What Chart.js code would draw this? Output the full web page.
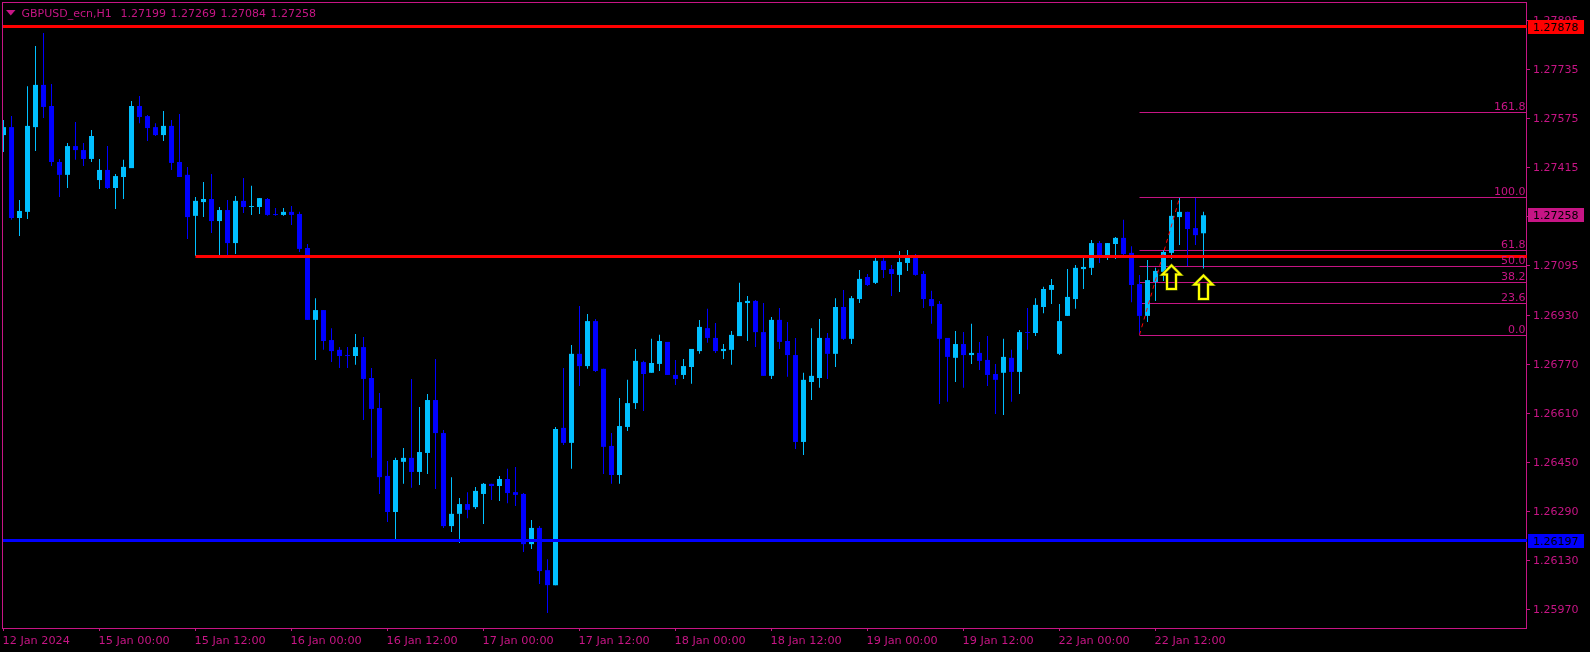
<!DOCTYPE html>
<html>
<head>
<meta charset="utf-8">
<title>GBPUSD_ecn,H1</title>
<script src="https://cdn.jsdelivr.net/npm/chart.js@4"></script>
<style>
  html, body { margin: 0; padding: 0; background: #000; }
  canvas { display: block; }
</style>
</head>
<body>
<canvas id="chart" width="1590" height="652"></canvas>
<script>
const opens = [
  1.27520,1.27546,1.27249,1.27269,1.27546,1.27684,1.27615,1.27432,1.27390,1.27484,
  1.27471,1.27442,1.27373,1.27406,1.27347,1.27383,1.27412,1.27615,1.27582,1.27546,
  1.27520,1.27550,1.27432,1.27390,1.27256,1.27301,1.27311,1.27239,1.27275,1.27167,
  1.27305,1.27285,1.27285,1.27311,1.27262,1.27259,1.27269,1.27262,1.27151,1.26916,
  1.26948,1.26850,1.26818,1.26801,1.26798,1.26827,1.26726,1.26628,1.26406,1.26288,
  1.26452,1.26465,1.26419,1.26481,1.26654,1.26546,1.26242,1.26282,1.26314,1.26304,
  1.26347,1.26380,1.26373,1.26396,1.26353,1.26347,1.26183,1.26236,1.26098,1.26049,
  1.26563,1.26514,1.26805,1.26765,1.26912,1.26756,1.26504,1.26409,1.26566,1.26644,
  1.26778,1.26743,1.26772,1.26844,1.26736,1.26736,1.26762,1.26814,1.26889,1.26857,
  1.26814,1.26818,1.26863,1.26971,1.26978,1.26876,1.26733,1.26916,1.26847,1.26801,
  1.26517,1.26713,1.26726,1.26857,1.26805,1.26958,1.26854,1.26984,1.27056,1.27037,
  1.27109,1.27082,1.27063,1.27102,1.27125,1.27066,1.26984,1.26968,1.26857,1.26792,
  1.26837,1.26801,1.26808,1.26785,1.26739,1.26743,1.26792,1.26746,1.26876,1.26873,
  1.26958,1.27014,1.26805,1.26929,1.26984,1.27082,1.27086,1.27167,1.27128,1.27164,
  1.27184,1.27135,1.27033,1.26929,1.27040,1.27073,1.27135,1.27252,1.27269,1.27216,
  1.27199
];
const highs = [
  1.27569,1.27582,1.27308,1.27680,1.27811,1.27854,1.27687,1.27442,1.27494,1.27563,
  1.27494,1.27537,1.27442,1.27484,1.27393,1.27439,1.27631,1.27648,1.27586,1.27559,
  1.27599,1.27569,1.27589,1.27416,1.27318,1.27367,1.27393,1.27285,1.27308,1.27321,
  1.27380,1.27354,1.27314,1.27314,1.27282,1.27282,1.27288,1.27269,1.27164,1.26987,
  1.26948,1.26889,1.26827,1.26827,1.26870,1.26860,1.26759,1.26677,1.26455,1.26465,
  1.26497,1.26723,1.26631,1.26674,1.26788,1.26556,1.26402,1.26334,1.26353,1.26370,
  1.26383,1.26380,1.26406,1.26429,1.26435,1.26350,1.26262,1.26242,1.26134,1.26566,
  1.26759,1.26834,1.26961,1.26935,1.26919,1.26756,1.26546,1.26661,1.26720,1.26821,
  1.26782,1.26854,1.26867,1.26844,1.26785,1.26788,1.26821,1.26916,1.26952,1.26906,
  1.26837,1.26880,1.27037,1.26994,1.26981,1.26971,1.26925,1.26955,1.26909,1.26857,
  1.26743,1.26889,1.26919,1.26873,1.26987,1.27014,1.26994,1.27079,1.27066,1.27122,
  1.27118,1.27095,1.27141,1.27144,1.27131,1.27076,1.27011,1.26978,1.26857,1.26880,
  1.26876,1.26903,1.26844,1.26863,1.26772,1.26854,1.26818,1.26883,1.26955,1.26987,
  1.27024,1.27050,1.26968,1.27082,1.27095,1.27128,1.27177,1.27174,1.27167,1.27187,
  1.27243,1.27157,1.27063,1.27112,1.27086,1.27144,1.27308,1.27314,1.27269,1.27314,
  1.27269
];
const lows = [
  1.27465,1.27243,1.27190,1.27246,1.27468,1.27576,1.27419,1.27318,1.27347,1.27439,
  1.27419,1.27432,1.27344,1.27344,1.27278,1.27311,1.27412,1.27559,1.27501,1.27517,
  1.27501,1.27406,1.27383,1.27180,1.27125,1.27252,1.27200,1.27125,1.27125,1.27131,
  1.27265,1.27259,1.27262,1.27256,1.27256,1.27256,1.27226,1.27138,1.26916,1.26785,
  1.26818,1.26778,1.26759,1.26759,1.26769,1.26589,1.26465,1.26347,1.26255,1.26197,
  1.26380,1.26367,1.26376,1.26412,1.26363,1.26236,1.26223,1.26187,1.26268,1.26298,
  1.26249,1.26327,1.26324,1.26317,1.26308,1.26157,1.26167,1.26053,1.25958,1.26049,
  1.26507,1.26429,1.26700,1.26756,1.26746,1.26412,1.26380,1.26380,1.26553,1.26625,
  1.26618,1.26743,1.26749,1.26736,1.26703,1.26723,1.26707,1.26805,1.26841,1.26808,
  1.26788,1.26769,1.26863,1.26847,1.26827,1.26733,1.26723,1.26821,1.26730,1.26494,
  1.26474,1.26654,1.26694,1.26723,1.26762,1.26850,1.26837,1.26971,1.27027,1.27033,
  1.27053,1.26994,1.27007,1.27076,1.27060,1.26955,1.26903,1.26641,1.26648,1.26713,
  1.26694,1.26772,1.26752,1.26700,1.26608,1.26605,1.26648,1.26674,1.26818,1.26863,
  1.26938,1.26968,1.26801,1.26929,1.26952,1.27017,1.27063,1.27102,1.27112,1.27115,
  1.27128,1.26974,1.26867,1.26909,1.26978,1.27043,1.27115,1.27161,1.27092,1.27161,
  1.27084
];
const closes = [
  1.27546,1.27249,1.27272,1.27550,1.27684,1.27612,1.27432,1.27390,1.27484,1.27471,
  1.27442,1.27517,1.27406,1.27347,1.27386,1.27416,1.27615,1.27579,1.27543,1.27520,
  1.27550,1.27429,1.27383,1.27252,1.27305,1.27311,1.27239,1.27275,1.27167,1.27305,
  1.27285,1.27288,1.27314,1.27259,1.27259,1.27269,1.27259,1.27148,1.26916,1.26948,
  1.26847,1.26814,1.26798,1.26798,1.26827,1.26723,1.26625,1.26402,1.26288,1.26458,
  1.26465,1.26419,1.26484,1.26654,1.26546,1.26242,1.26282,1.26314,1.26295,1.26357,
  1.26380,1.26373,1.26396,1.26350,1.26344,1.26183,1.26236,1.26095,1.26049,1.26559,
  1.26514,1.26805,1.26765,1.26912,1.26749,1.26501,1.26409,1.26569,1.26644,1.26782,
  1.26739,1.26775,1.26847,1.26736,1.26723,1.26765,1.26821,1.26893,1.26857,1.26814,
  1.26821,1.26867,1.26974,1.26978,1.26876,1.26733,1.26916,1.26844,1.26801,1.26517,
  1.26720,1.26733,1.26857,1.26805,1.26958,1.26854,1.26987,1.27050,1.27030,1.27109,
  1.27079,1.27066,1.27105,1.27125,1.27063,1.26984,1.26961,1.26854,1.26795,1.26837,
  1.26801,1.26808,1.26782,1.26736,1.26720,1.26795,1.26746,1.26876,1.26873,1.26965,
  1.27017,1.27030,1.26912,1.26991,1.27086,1.27089,1.27167,1.27128,1.27167,1.27184,
  1.27131,1.27030,1.26929,1.27046,1.27076,1.27138,1.27256,1.27269,1.27213,1.27193,
  1.27258
];

const priceTicks = [1.27895,1.27735,1.27575,1.27415,1.27255,1.27095,1.26930,1.26770,1.26610,1.26450,1.26290,1.26130,1.25970];
const timeIndex = [0,12,24,36,48,60,72,84,96,108,120,132,144];
const timeLabels = ["12 Jan 2024","15 Jan 00:00","15 Jan 12:00","16 Jan 00:00","16 Jan 12:00","17 Jan 00:00","17 Jan 12:00","18 Jan 00:00","18 Jan 12:00","19 Jan 00:00","19 Jan 12:00","22 Jan 00:00","22 Jan 12:00"];

// horizontal levels
const resistance = 1.27875;
const midLine = 1.27123;
const midLineStart = 24;
const support = 1.26195;

// fibo retracement
const fibStart = 142;
const fibNames = ["161.8","100.0","61.8","50.0","38.2","23.6","0.0"];
const fibPrices = [1.275938,1.273160,1.271428,1.270905,1.270381,1.269695,1.268649];
const fibTrendIndex = [142,147];
const fibTrendPrice = [1.26867,1.27314];

// up arrows
const arrowIndex = [146,150];
const arrowPrice = [1.27094,1.27061];

// price tags on the right axis
const tagPrices = [1.27875,1.27258,1.26195];
const tagTexts = ["1.27878","1.27258","1.26197"];

const headerSymbol = "GBPUSD_ecn,H1";
const headerValues = ["1.27199","1.27269","1.27084","1.27258"];

const FG = "#C71585";
const BULL = "#00BFFF";
const BEAR = "#0000FF";
const FONT = "DejaVu Sans";
const FONT_SIZE = 11;
const xMin = -0.0625;
const xMax = 190.4375;

const bars = opens.map((o, i) => i);
const candleColor = ctx => closes[ctx.dataIndex] >= opens[ctx.dataIndex] ? BULL : BEAR;

function levelLine(from, price, color, width, order) {
  return {
    type: "line",
    data: [{ x: from, y: price }, { x: xMax, y: price }],
    borderColor: color,
    borderWidth: width,
    pointRadius: 0,
    order: order
  };
}

const overlay = {
  id: "overlay",
  beforeDatasetsDraw(chart) {
    const ctx = chart.ctx;
    const a = chart.chartArea;
    ctx.save();
    ctx.strokeStyle = FG;
    ctx.lineWidth = 1;
    ctx.strokeRect(a.left - 0.5, a.top - 0.5, a.right - a.left, a.bottom - a.top + 1);
    ctx.restore();
  },
  afterDatasetsDraw(chart) {
    const ctx = chart.ctx;
    const a = chart.chartArea;
    const x = chart.scales.x;
    const y = chart.scales.y;
    ctx.save();

    // fibo level names
    ctx.font = FONT_SIZE + "px '" + FONT + "'";
    ctx.fillStyle = FG;
    ctx.textAlign = "right";
    ctx.textBaseline = "bottom";
    fibPrices.forEach((p, i) => {
      ctx.fillText(fibNames[i], a.right - 1.5, y.getPixelForValue(p));
    });

    // arrows
    arrowIndex.forEach((idx, i) => {
      const px = x.getPixelForValue(idx);
      const py = y.getPixelForValue(arrowPrice[i]);
      ctx.beginPath();
      ctx.moveTo(px, py);
      ctx.lineTo(px + 9, py + 9);
      ctx.lineTo(px + 4.5, py + 9);
      ctx.lineTo(px + 4.5, py + 23.5);
      ctx.lineTo(px - 4.5, py + 23.5);
      ctx.lineTo(px - 4.5, py + 9);
      ctx.lineTo(px - 9, py + 9);
      ctx.closePath();
      ctx.lineJoin = "miter";
      ctx.strokeStyle = "#5F6F00";
      ctx.lineWidth = 3;
      ctx.stroke();
      ctx.strokeStyle = "#FFFF00";
      ctx.lineWidth = 2;
      ctx.stroke();
    });

    // header
    ctx.fillStyle = FG;
    ctx.beginPath();
    ctx.moveTo(6, 10);
    ctx.lineTo(15.5, 10);
    ctx.lineTo(10.75, 15.5);
    ctx.closePath();
    ctx.fill();
    ctx.textAlign = "left";
    ctx.textBaseline = "middle";
    ctx.fillText(headerSymbol, 21.5, 14);
    headerValues.forEach((t, i) => ctx.fillText(t, 120.5 + i * 50, 14));

    // price tags
    const tagColors = ["#FF0000", FG, BEAR];
    tagPrices.forEach((p, i) => {
      const top = Math.floor(y.getPixelForValue(p) - 6.4);
      ctx.fillStyle = tagColors[i];
      ctx.fillRect(a.right + 1, top, 56, 14);
      ctx.fillStyle = "#000";
      ctx.fillText(tagTexts[i], a.right + 6, top + 8);
    });
    ctx.restore();
  }
};

new Chart(document.getElementById("chart"), {
  type: "bar",
  data: {
    datasets: [
      levelLine(xMin, resistance, "#FF0000", 3, 1),
      levelLine(midLineStart, midLine, "#FF0000", 3, 1),
      levelLine(xMin, support, BEAR, 3, 1),
      {
        type: "line",
        data: fibTrendIndex.map((v, i) => ({ x: v, y: fibTrendPrice[i] })),
        borderColor: "#FF0000",
        borderWidth: 1,
        borderDash: [4, 4],
        pointRadius: 0,
        order: 2
      },
      {
        data: bars.map(i => ({ x: i, y: [opens[i], closes[i]] })),
        backgroundColor: candleColor,
        grouped: false,
        barPercentage: 1,
        maxBarThickness: 5,
        inflateAmount: 0,
        borderWidth: 0,
        order: 5
      },
      {
        data: bars.map(i => ({ x: i, y: [lows[i], highs[i]] })),
        backgroundColor: candleColor,
        grouped: false,
        barPercentage: 1,
        maxBarThickness: 1,
        inflateAmount: 0,
        borderWidth: 0,
        order: 6
      }
    ].concat(fibPrices.map(p => levelLine(fibStart, p, FG, 1, 10)))
  },
  options: {
    responsive: false,
    animation: false,
    layout: { padding: { left: 3, top: 3, right: 0, bottom: 0 } },
    plugins: { legend: { display: false }, tooltip: { enabled: false } },
    scales: {
      x: {
        type: "linear",
        offset: false,
        bounds: "data",
        min: xMin,
        max: xMax,
        afterFit: s => { s.height = 24; s.paddingLeft = 0; s.paddingRight = 0; },
        afterBuildTicks: s => { s.ticks = timeIndex.map(v => ({ value: v })); },
        border: { display: false },
        grid: { offset: false, drawOnChartArea: false, color: FG, tickLength: 3, tickColor: FG },
        ticks: {
          autoSkip: false,
          maxRotation: 0,
          minRotation: 0,
          align: "start",
          labelOffset: -1,
          padding: 3,
          color: FG,
          font: { family: FONT, size: 11.25 },
          callback: (v, i) => timeLabels[i]
        }
      },
      y: {
        position: "right",
        bounds: "data",
        min: 1.259089,
        max: 1.279517,
        afterFit: s => { s.width = 63; s.paddingTop = 0; s.paddingBottom = 0; },
        afterBuildTicks: s => { s.ticks = priceTicks.map(v => ({ value: v })); },
        border: { display: false },
        grid: { drawOnChartArea: false, color: FG, tickLength: 3, tickColor: FG },
        ticks: {
          autoSkip: false,
          padding: 3,
          labelOffset: 1,
          color: FG,
          font: { family: FONT, size: FONT_SIZE },
          callback: v => v.toFixed(5)
        }
      }
    }
  },
  plugins: [overlay]
});
</script>
</body>
</html>
